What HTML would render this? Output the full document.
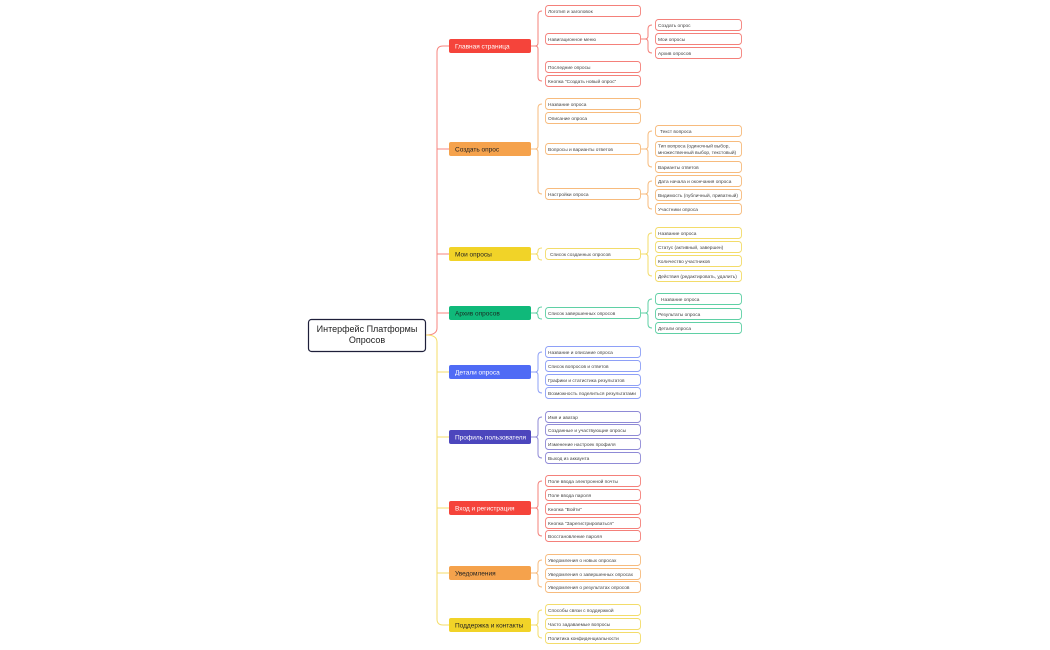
<!DOCTYPE html>
<html><head><meta charset="utf-8"><style>
html,body{margin:0;padding:0;background:#fff;width:1050px;height:650px;overflow:hidden}
svg{display:block}
text{font-family:"Liberation Sans","DejaVu Sans",sans-serif}
.s{font-size:4.8px;fill:#444}
.m{font-size:6.5px}
</style></head><body>
<svg width="1050" height="650" viewBox="0 0 1050 650" xmlns="http://www.w3.org/2000/svg">
<g fill="none" stroke-width="1">
<path d="M426,335 Q437,335 437,328 L437,52 Q437,46 443,46 L449,46" stroke="#f7867f"/>
<path d="M437,149 L449,149 M437,254 L449,254 M437,313 L449,313" stroke="#f7867f"/>
<path d="M426,335 Q437,335 437,342 L437,619 Q437,625 443,625 L449,625" stroke="#f5de6a"/>
<path d="M437,372 L449,372 M437,437 L449,437 M437,508 L449,508 M437,573 L449,573" stroke="#f5de6a"/>
<path d="M531,46 L535,46 M542,11 Q538,11 538,15 L538,43 Q538,46 535,46 Q538,46 538,49 L538,77 Q538,81 542,81" stroke="#f4807a"/>
<path d="M641,39 L645,39 M652,25 Q648,25 648,29 L648,36 Q648,39 645,39 Q648,39 648,42 L648,49 Q648,53 652,53" stroke="#f4807a"/>
<path d="M531,149 L535,149 M542,104 Q538,104 538,108 L538,146 Q538,149 535,149 Q538,149 538,152 L538,190 Q538,194 542,194" stroke="#f7bb7d"/>
<path d="M641,149 L645,149 M652,131 Q648,131 648,135 L648,146 Q648,149 645,149 Q648,149 648,152 L648,163 Q648,167 652,167" stroke="#f7bb7d"/>
<path d="M641,194 L645,194 M652,181 Q648,181 648,185 L648,191 Q648,194 645,194 Q648,194 648,197 L648,205 Q648,209 652,209" stroke="#f7bb7d"/>
<path d="M531,254 L535,254 M542,248 Q538,248 538,251 Q538,254 535,254 Q538,254 538,257 Q538,260 542,260" stroke="#f3dc6a"/>
<path d="M641,254 L645,254 M652,233 Q648,233 648,237 L648,251 Q648,254 645,254 Q648,254 648,257 L648,272 Q648,276 652,276" stroke="#f3dc6a"/>
<path d="M531,313 L535,313 M542,307 Q538,307 538,310 Q538,313 535,313 Q538,313 538,316 Q538,319 542,319" stroke="#5fd0a5"/>
<path d="M641,313 L645,313 M652,299 Q648,299 648,303 L648,310 Q648,313 645,313 Q648,313 648,316 L648,324 Q648,328 652,328" stroke="#5fd0a5"/>
<path d="M531,372 L535,372 M542,352 Q538,352 538,356 L538,369 Q538,372 535,372 Q538,372 538,375 L538,389 Q538,393 542,393" stroke="#8ea0f7"/>
<path d="M531,437 L535,437 M542,417 Q538,417 538,421 L538,434 Q538,437 535,437 Q538,437 538,440 L538,454 Q538,458 542,458" stroke="#8f8ad6"/>
<path d="M531,508 L535,508 M542,481 Q538,481 538,485 L538,505 Q538,508 535,508 Q538,508 538,511 L538,532 Q538,536 542,536" stroke="#f4807a"/>
<path d="M531,573 L535,573 M542,560 Q538,560 538,564 L538,570 Q538,573 535,573 Q538,573 538,576 L538,583 Q538,587 542,587" stroke="#f7bb7d"/>
<path d="M531,625 L535,625 M542,610 Q538,610 538,614 L538,622 Q538,625 535,625 Q538,625 538,628 L538,634 Q538,638 542,638" stroke="#f3dc6a"/>
</g>
<rect x="308.5" y="319.5" width="117" height="32" rx="3" fill="#fff" stroke="#1e1f3a" stroke-width="1.2"/>
<text x="367" y="332" font-size="9" text-anchor="middle" fill="#222">Интерфейс Платформы</text>
<text x="367" y="343" font-size="9" text-anchor="middle" fill="#222">Опросов</text>
<g>
<rect x="449" y="39" width="82" height="14" rx="2" fill="#f5443b"/><text class="m" x="455" y="48.3" fill="#fff">Главная страница</text>
<rect x="449" y="142" width="82" height="14" rx="2" fill="#f5a24c"/><text class="m" x="455" y="151.3" fill="#222">Создать опрос</text>
<rect x="449" y="247" width="82" height="14" rx="2" fill="#f1d328"/><text class="m" x="455" y="256.3" fill="#222">Мои опросы</text>
<rect x="449" y="306" width="82" height="14" rx="2" fill="#10b97a"/><text class="m" x="455" y="315.3" fill="#1a2a22">Архив опросов</text>
<rect x="449" y="365" width="82" height="14" rx="2" fill="#4f6bf5"/><text class="m" x="455" y="374.3" fill="#fff">Детали опроса</text>
<rect x="449" y="430" width="82" height="14" rx="2" fill="#4c46bd"/><text class="m" x="455" y="439.3" fill="#fff">Профиль пользователя</text>
<rect x="449" y="501" width="82" height="14" rx="2" fill="#f5443b"/><text class="m" x="455" y="510.3" fill="#fff">Вход и регистрация</text>
<rect x="449" y="566" width="82" height="14" rx="2" fill="#f5a24c"/><text class="m" x="455" y="575.3" fill="#222">Уведомления</text>
<rect x="449" y="618" width="82" height="14" rx="2" fill="#f1d328"/><text class="m" x="455" y="627.3" fill="#222">Поддержка и контакты</text>
</g>
<g fill="#fff" stroke-width="0.9">
<g stroke="#f4807a">
<rect x="545.5" y="5.5" width="95" height="11" rx="3"/>
<rect x="545.5" y="33.5" width="95" height="11" rx="3"/>
<rect x="545.5" y="61.5" width="95" height="11" rx="3"/>
<rect x="545.5" y="75.5" width="95" height="11" rx="3"/>
<rect x="655.5" y="19.5" width="86" height="11" rx="3"/>
<rect x="655.5" y="33.5" width="86" height="11" rx="3"/>
<rect x="655.5" y="47.5" width="86" height="11" rx="3"/>
<rect x="545.5" y="475.5" width="95" height="11" rx="3"/>
<rect x="545.5" y="489.5" width="95" height="11" rx="3"/>
<rect x="545.5" y="503.5" width="95" height="11" rx="3"/>
<rect x="545.5" y="517.5" width="95" height="11" rx="3"/>
<rect x="545.5" y="530.5" width="95" height="11" rx="3"/>
</g>
<g stroke="#f7bb7d">
<rect x="545.5" y="98.5" width="95" height="11" rx="3"/>
<rect x="545.5" y="112.5" width="95" height="11" rx="3"/>
<rect x="545.5" y="143.5" width="95" height="11" rx="3"/>
<rect x="545.5" y="188.5" width="95" height="11" rx="3"/>
<rect x="655.5" y="125.5" width="86" height="11" rx="3"/>
<rect x="655.5" y="141.5" width="86" height="15" rx="3"/>
<rect x="655.5" y="161.5" width="86" height="11" rx="3"/>
<rect x="655.5" y="175.5" width="86" height="11" rx="3"/>
<rect x="655.5" y="189.5" width="86" height="11" rx="3"/>
<rect x="655.5" y="203.5" width="86" height="11" rx="3"/>
<rect x="545.5" y="554.5" width="95" height="11" rx="3"/>
<rect x="545.5" y="568.5" width="95" height="11" rx="3"/>
<rect x="545.5" y="581.5" width="95" height="11" rx="3"/>
</g>
<g stroke="#f3dc6a">
<rect x="545.5" y="248.5" width="95" height="11" rx="3"/>
<rect x="655.5" y="227.5" width="86" height="11" rx="3"/>
<rect x="655.5" y="241.5" width="86" height="11" rx="3"/>
<rect x="655.5" y="255.5" width="86" height="11" rx="3"/>
<rect x="655.5" y="270.5" width="86" height="11" rx="3"/>
<rect x="545.5" y="604.5" width="95" height="11" rx="3"/>
<rect x="545.5" y="618.5" width="95" height="11" rx="3"/>
<rect x="545.5" y="632.5" width="95" height="11" rx="3"/>
</g>
<g stroke="#5fd0a5">
<rect x="545.5" y="307.5" width="95" height="11" rx="3"/>
<rect x="655.5" y="293.5" width="86" height="11" rx="3"/>
<rect x="655.5" y="308.5" width="86" height="11" rx="3"/>
<rect x="655.5" y="322.5" width="86" height="11" rx="3"/>
</g>
<g stroke="#8ea0f7">
<rect x="545.5" y="346.5" width="95" height="11" rx="3"/>
<rect x="545.5" y="360.5" width="95" height="11" rx="3"/>
<rect x="545.5" y="374.5" width="95" height="11" rx="3"/>
<rect x="545.5" y="387.5" width="95" height="11" rx="3"/>
</g>
<g stroke="#8f8ad6">
<rect x="545.5" y="411.5" width="95" height="11" rx="3"/>
<rect x="545.5" y="424.5" width="95" height="11" rx="3"/>
<rect x="545.5" y="438.5" width="95" height="11" rx="3"/>
<rect x="545.5" y="452.5" width="95" height="11" rx="3"/>
</g>
</g>
<g class="s">
<text class="s" x="548" y="12.8">Логотип и заголовок</text>
<text class="s" x="548" y="40.8">Навигационное меню</text>
<text class="s" x="548" y="68.8">Последние опросы</text>
<text class="s" x="548" y="82.8">Кнопка "Создать новый опрос"</text>
<text class="s" x="658" y="26.8">Создать опрос</text>
<text class="s" x="658" y="40.8">Мои опросы</text>
<text class="s" x="658" y="54.8">Архив опросов</text>
<text class="s" x="548" y="105.8">Название опроса</text>
<text class="s" x="548" y="119.8">Описание опроса</text>
<text class="s" x="548" y="150.8">Вопросы и варианты ответов</text>
<text class="s" x="548" y="195.8">Настройки опроса</text>
<text class="s" x="660" y="132.8">Текст вопроса</text>
<text class="s" x="658" y="147.5">Тип вопроса (одиночный выбор,</text>
<text class="s" x="658" y="154">множественный выбор, текстовый)</text>
<text class="s" x="658" y="168.8">Варианты ответов</text>
<text class="s" x="658" y="182.8">Дата начала и окончания опроса</text>
<text class="s" x="658" y="196.8">Видимость (публичный, приватный)</text>
<text class="s" x="658" y="210.8">Участники опроса</text>
<text class="s" x="550" y="255.8">Список созданных опросов</text>
<text class="s" x="658" y="234.8">Название опроса</text>
<text class="s" x="658" y="248.8">Статус (активный, завершен)</text>
<text class="s" x="658" y="262.8">Количество участников</text>
<text class="s" x="658" y="277.8">Действия (редактировать, удалить)</text>
<text class="s" x="548" y="314.8">Список завершенных опросов</text>
<text class="s" x="661" y="300.8">Название опроса</text>
<text class="s" x="658" y="315.8">Результаты опроса</text>
<text class="s" x="658" y="329.8">Детали опроса</text>
<text class="s" x="548" y="353.8">Название и описание опроса</text>
<text class="s" x="548" y="367.8">Список вопросов и ответов</text>
<text class="s" x="548" y="381.8">Графики и статистика результатов</text>
<text class="s" x="548" y="394.8">Возможность поделиться результатами</text>
<text class="s" x="548" y="418.8">Имя и аватар</text>
<text class="s" x="548" y="431.8">Созданные и участвующие опросы</text>
<text class="s" x="548" y="445.8">Изменение настроек профиля</text>
<text class="s" x="548" y="459.8">Выход из аккаунта</text>
<text class="s" x="548" y="482.8">Поле ввода электронной почты</text>
<text class="s" x="548" y="496.8">Поле ввода пароля</text>
<text class="s" x="548" y="510.8">Кнопка "Войти"</text>
<text class="s" x="548" y="524.8">Кнопка "Зарегистрироваться"</text>
<text class="s" x="548" y="537.8">Восстановление пароля</text>
<text class="s" x="548" y="561.8">Уведомления о новых опросах</text>
<text class="s" x="548" y="575.8">Уведомления о завершенных опросах</text>
<text class="s" x="548" y="588.8">Уведомления о результатах опросов</text>
<text class="s" x="548" y="611.8">Способы связи с поддержкой</text>
<text class="s" x="548" y="625.8">Часто задаваемые вопросы</text>
<text class="s" x="548" y="639.8">Политика конфиденциальности</text>
</g>
</svg>
</body></html>
